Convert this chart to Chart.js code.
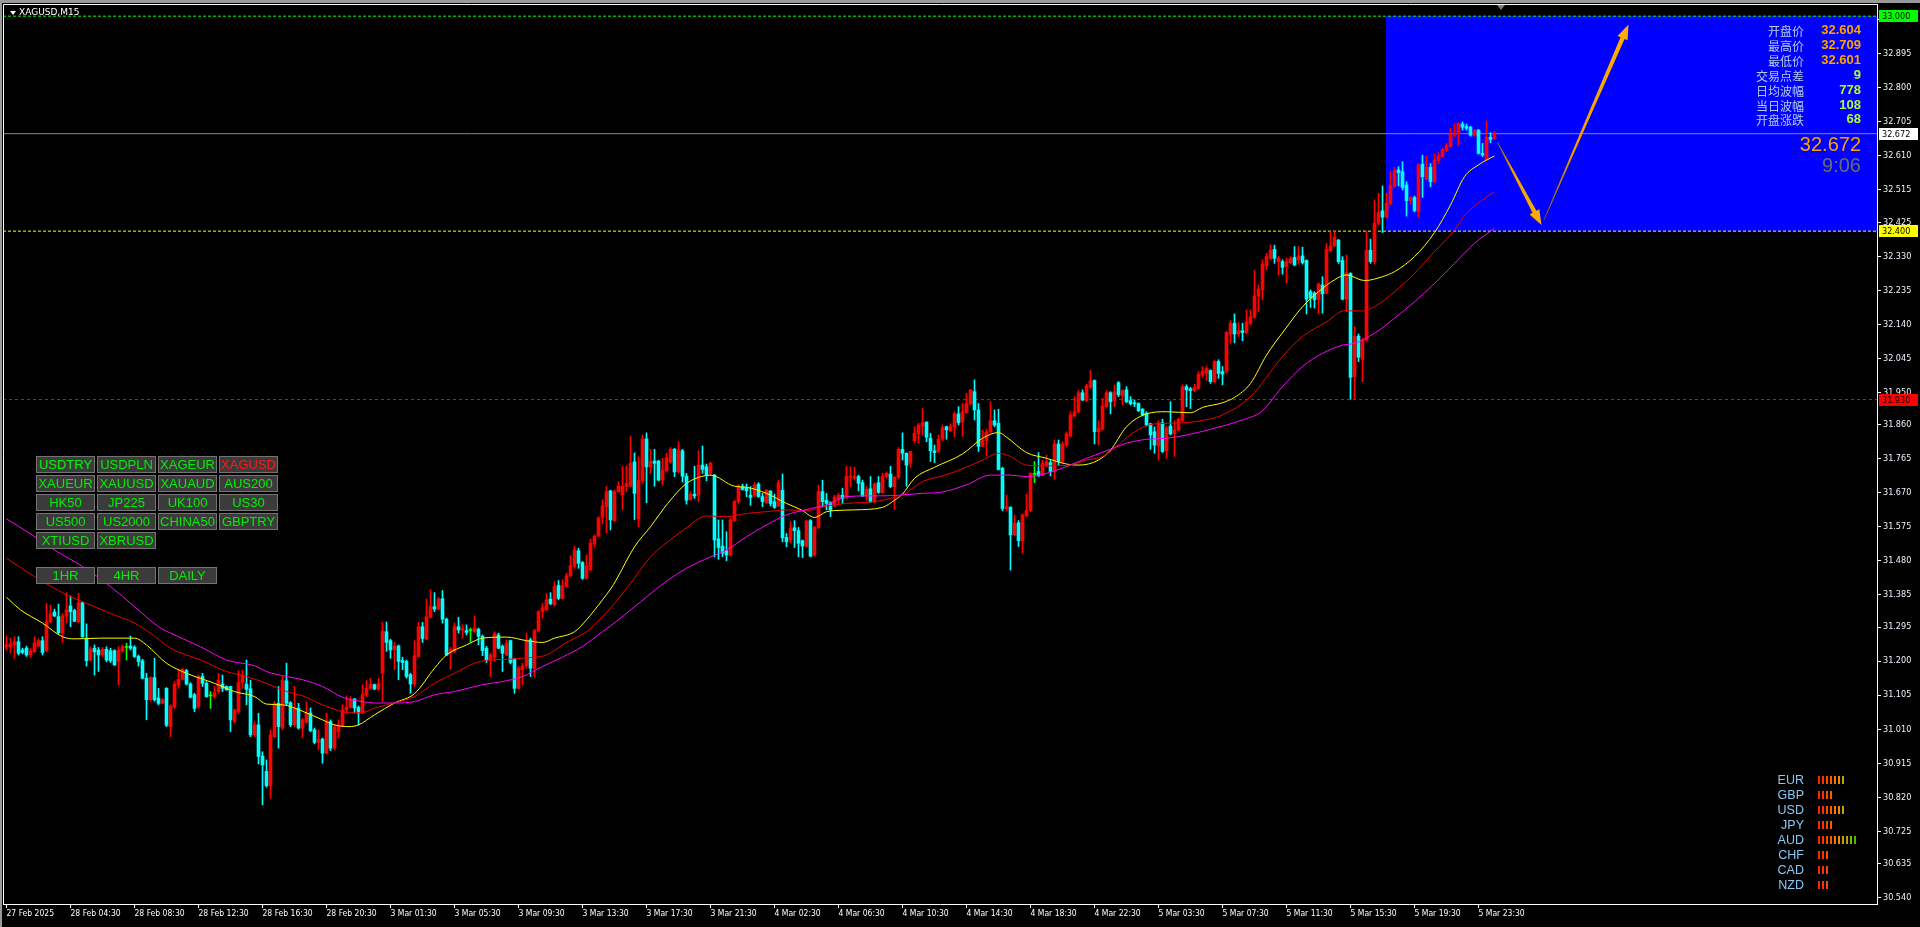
<!DOCTYPE html>
<html>
<head>
<meta charset="utf-8">
<title>XAGUSD,M15</title>
<script src="https://cdn.jsdelivr.net/npm/chart.js@4.4.1/dist/chart.umd.min.js"></script>
<style>
    html, body { margin: 0; padding: 0; background: #000; overflow: hidden; }
    #wrap { position: relative; width: 1920px; height: 927px; background: #000; }
    #chart { position: absolute; left: 0; top: 0; }
    .frameTop { position: absolute; left: 0; top: 0; width: 1920px; height: 3px; background: #9a9a9a; }
    .frameLeft { position: absolute; left: 0; top: 0; width: 2px; height: 927px; background: #9a9a9a; }
    .title { position: absolute; left: 19px; top: 6px; font: 9px "DejaVu Sans", sans-serif; color: #fff; line-height: 12px; }
    .tri { position: absolute; left: 10px; top: 11px; width: 0; height: 0; border-left: 3px solid transparent; border-right: 3px solid transparent; border-top: 4px solid #fff; }
    .btn { position: absolute; width: 57px; height: 15px; background: #3b3b3b; border: 1px solid #747474; color: #00f000; font: 13px "Liberation Sans", Arial, sans-serif; line-height: 15px; text-align: center; }
    .info { position: absolute; line-height: 14px; white-space: nowrap; text-align: right; }
    .lbl { font: 12px "Noto Sans CJK SC", sans-serif; color: #b4cbe8; }
    .val { font: bold 13px "Liberation Sans", Arial, sans-serif; }
    .big { position: absolute; right: 59px; font: 20px "Liberation Sans", Arial, sans-serif; line-height: 20px; text-align: right; }
    .cur { position: absolute; right: 116px; font: 12.5px "Liberation Sans", Arial, sans-serif; color: #87c8f5; line-height: 14px; text-align: right; }
    .bar { position: absolute; width: 2px; height: 8px; }
</style>
</head>
<body>
<div id="wrap">
    <canvas id="chart" width="1920" height="927"></canvas>
    <div class="frameTop"></div>
    <div class="frameLeft"></div>
    <div class="tri"></div>
    <div class="title">XAGUSD,M15</div>
    <div id="overlay"></div>
</div>
<script>
// ============================================
// DATA
// ============================================

// OHLC of each M15 candle, left to right
const opens = [
31.239,31.240,31.245,31.254,31.231,31.236,31.217,31.226,31.242,31.257,31.229,31.310,31.337,31.324,31.278,31.326,31.354,31.341,31.310,31.363,
31.264,31.203,31.236,31.231,31.217,31.233,31.229,31.229,31.199,31.228,31.238,31.242,31.239,31.213,31.201,31.152,31.092,31.154,31.097,31.082,
31.124,31.017,31.071,31.133,31.149,31.173,31.136,31.106,31.073,31.157,31.138,31.103,31.101,31.115,31.136,31.129,31.129,31.031,31.059,31.140,
31.136,31.123,30.994,31.022,30.935,30.892,30.852,30.989,31.082,31.013,31.145,31.084,31.022,31.068,31.013,31.029,31.055,31.008,30.973,30.982,
30.943,31.031,30.957,31.003,31.019,31.064,31.071,31.094,31.071,31.055,31.106,31.124,31.134,31.122,31.166,31.282,31.257,31.231,31.242,31.202,
31.199,31.162,31.136,31.213,31.296,31.261,31.322,31.352,31.345,31.374,31.317,31.222,31.227,31.296,31.287,31.285,31.285,31.282,31.289,31.269,
31.236,31.202,31.211,31.273,31.241,31.217,31.257,31.205,31.124,31.176,31.187,31.259,31.180,31.285,31.338,31.343,31.373,31.357,31.411,31.375,
31.408,31.438,31.464,31.508,31.475,31.431,31.455,31.527,31.549,31.601,31.631,31.675,31.592,31.673,31.663,31.687,31.688,31.756,31.597,31.703,
31.820,31.742,31.758,31.758,31.705,31.731,31.756,31.791,31.728,31.787,31.716,31.651,31.666,31.663,31.747,31.742,31.724,31.719,31.541,31.521,
31.508,31.496,31.592,31.645,31.688,31.685,31.663,31.663,31.694,31.659,31.642,31.675,31.645,31.633,31.677,31.545,31.538,31.572,31.564,31.536,
31.521,31.592,31.496,31.573,31.673,31.649,31.642,31.635,31.651,31.663,31.657,31.713,31.710,31.715,31.698,31.661,31.681,31.645,31.698,31.670,
31.715,31.722,31.687,31.713,31.791,31.780,31.752,31.815,31.834,31.856,31.867,31.822,31.787,31.785,31.819,31.854,31.843,31.854,31.890,31.868,
31.893,31.919,31.952,31.901,31.800,31.815,31.840,31.871,31.864,31.738,31.626,31.629,31.552,31.586,31.536,31.605,31.620,31.721,31.729,31.719,
31.747,31.754,31.732,31.806,31.757,31.803,31.828,31.884,31.896,31.949,31.927,31.964,31.983,31.840,31.847,31.910,31.949,31.927,31.977,31.940,
31.957,31.927,31.921,31.919,31.903,31.892,31.862,31.840,31.800,31.865,31.787,31.856,31.834,31.845,31.871,31.966,31.960,31.955,31.961,31.998,
32.003,32.011,31.980,32.036,32.008,32.008,32.113,32.143,32.113,32.122,32.117,32.143,32.160,32.219,32.236,32.303,32.324,32.349,32.315,32.315,
32.301,32.312,32.327,32.319,32.331,32.318,32.231,32.227,32.210,32.250,32.227,32.345,32.359,32.375,32.318,32.210,32.282,31.994,32.107,32.042,
32.096,32.347,32.315,32.422,32.457,32.439,32.476,32.526,32.571,32.566,32.529,32.485,32.494,32.454,32.587,32.545,32.578,32.538,32.597,32.608,
32.625,32.636,32.668,32.671,32.699,32.692,32.690,32.668,32.682,32.617,32.599,32.662,32.659
];
const highs = [
31.270,31.264,31.268,31.268,31.236,31.242,31.235,31.268,31.262,31.268,31.361,31.356,31.345,31.359,31.333,31.391,31.382,31.345,31.389,31.365,
31.304,31.240,31.245,31.238,31.238,31.240,31.236,31.232,31.240,31.245,31.250,31.270,31.243,31.217,31.205,31.166,31.156,31.208,31.124,31.095,
31.126,31.078,31.143,31.177,31.180,31.177,31.140,31.110,31.161,31.166,31.143,31.115,31.129,31.166,31.161,31.131,31.130,31.066,31.173,31.175,
31.203,31.147,31.031,31.054,30.947,30.924,31.008,31.087,31.129,31.157,31.194,31.087,31.129,31.082,31.040,31.087,31.069,31.013,31.008,30.985,
31.055,31.036,31.022,31.036,31.078,31.103,31.101,31.096,31.075,31.134,31.146,31.152,31.136,31.152,31.308,31.309,31.261,31.252,31.245,31.211,
31.203,31.166,31.257,31.308,31.308,31.373,31.399,31.391,31.378,31.397,31.320,31.239,31.306,31.322,31.301,31.301,31.292,31.326,31.292,31.273,
31.241,31.222,31.282,31.278,31.245,31.259,31.259,31.208,31.185,31.194,31.278,31.264,31.289,31.341,31.361,31.389,31.391,31.422,31.425,31.427,
31.445,31.494,31.521,31.515,31.478,31.496,31.540,31.552,31.603,31.650,31.687,31.677,31.677,31.701,31.744,31.744,31.828,31.781,31.770,31.831,
31.837,31.791,31.791,31.761,31.766,31.780,31.796,31.794,31.812,31.791,31.724,31.673,31.744,31.787,31.800,31.750,31.756,31.721,31.594,31.594,
31.561,31.598,31.649,31.692,31.694,31.694,31.687,31.698,31.698,31.668,31.679,31.675,31.666,31.705,31.722,31.556,31.589,31.592,31.573,31.538,
31.594,31.595,31.577,31.691,31.705,31.668,31.645,31.663,31.668,31.682,31.744,31.742,31.741,31.719,31.705,31.687,31.715,31.698,31.715,31.724,
31.728,31.744,31.715,31.796,31.837,31.781,31.785,31.854,31.864,31.905,31.868,31.836,31.803,31.831,31.859,31.856,31.862,31.896,31.910,31.919,
31.947,31.958,31.985,31.919,31.845,31.847,31.924,31.901,31.903,31.741,31.664,31.631,31.608,31.592,31.611,31.666,31.726,31.757,31.782,31.761,
31.775,31.761,31.817,31.817,31.812,31.840,31.896,31.938,31.955,31.957,31.973,32.011,31.985,31.871,31.933,31.955,31.952,31.971,31.980,31.958,
31.966,31.938,31.929,31.921,31.905,31.896,31.864,31.854,31.871,31.875,31.856,31.924,31.871,31.878,31.971,31.971,31.964,31.973,32.008,32.022,
32.022,32.013,32.039,32.041,32.022,32.120,32.150,32.169,32.145,32.143,32.180,32.180,32.290,32.250,32.320,32.338,32.361,32.361,32.329,32.320,
32.324,32.329,32.357,32.357,32.355,32.320,32.236,32.231,32.256,32.273,32.366,32.399,32.399,32.377,32.329,32.333,32.284,32.134,32.113,32.101,
32.399,32.378,32.487,32.506,32.526,32.506,32.566,32.578,32.580,32.594,32.538,32.496,32.498,32.589,32.612,32.610,32.589,32.615,32.619,32.631,
32.645,32.687,32.699,32.703,32.705,32.699,32.693,32.684,32.684,32.645,32.708,32.675,32.678
];
const lows = [
31.231,31.222,31.208,31.217,31.220,31.213,31.211,31.224,31.240,31.217,31.226,31.306,31.324,31.276,31.252,31.307,31.296,31.310,31.307,31.266,
31.186,31.200,31.161,31.171,31.212,31.198,31.196,31.188,31.133,31.225,31.203,31.231,31.210,31.186,31.150,31.036,31.088,31.088,31.078,31.080,
31.017,30.989,31.068,31.124,31.147,31.133,31.097,31.059,31.068,31.129,31.099,31.068,31.096,31.110,31.115,31.118,31.003,31.027,31.054,31.124,
31.078,30.989,30.989,30.913,30.799,30.848,30.817,30.987,30.957,31.008,31.078,31.017,31.017,31.010,30.987,31.027,31.003,30.969,30.952,30.915,
30.941,30.950,30.952,30.985,31.017,31.055,31.069,31.055,31.022,31.053,31.101,31.122,31.120,31.118,31.087,31.227,31.208,31.176,31.148,31.176,
31.152,31.110,31.129,31.211,31.252,31.259,31.320,31.338,31.343,31.306,31.215,31.177,31.224,31.278,31.264,31.273,31.252,31.280,31.245,31.215,
31.196,31.157,31.199,31.234,31.171,31.215,31.192,31.110,31.122,31.134,31.180,31.157,31.155,31.282,31.320,31.341,31.357,31.354,31.371,31.373,
31.406,31.436,31.459,31.459,31.428,31.428,31.453,31.518,31.547,31.583,31.558,31.566,31.589,31.672,31.622,31.673,31.687,31.595,31.575,31.696,
31.642,31.724,31.688,31.703,31.691,31.728,31.752,31.715,31.726,31.700,31.638,31.649,31.654,31.645,31.724,31.703,31.719,31.491,31.484,31.491,
31.480,31.493,31.589,31.640,31.677,31.659,31.635,31.659,31.657,31.631,31.640,31.633,31.626,31.631,31.533,31.519,31.530,31.517,31.491,31.489,
31.517,31.491,31.493,31.570,31.631,31.622,31.603,31.631,31.640,31.640,31.654,31.687,31.705,31.675,31.659,31.649,31.642,31.642,31.668,31.668,
31.710,31.684,31.623,31.710,31.761,31.688,31.741,31.810,31.808,31.831,31.812,31.757,31.754,31.782,31.815,31.819,31.840,31.826,31.859,31.828,
31.892,31.915,31.873,31.785,31.799,31.772,31.836,31.854,31.733,31.620,31.620,31.454,31.549,31.520,31.501,31.603,31.617,31.698,31.715,31.717,
31.743,31.717,31.707,31.747,31.752,31.799,31.826,31.882,31.893,31.927,31.924,31.961,31.806,31.803,31.845,31.908,31.890,31.910,31.938,31.915,
31.921,31.915,31.910,31.896,31.884,31.856,31.791,31.780,31.761,31.782,31.766,31.831,31.771,31.843,31.868,31.910,31.905,31.952,31.958,31.994,
31.983,31.975,31.977,31.989,31.971,32.003,32.087,32.088,32.106,32.094,32.113,32.138,32.157,32.175,32.208,32.292,32.320,32.310,32.278,32.280,
32.256,32.308,32.303,32.308,32.308,32.169,32.187,32.185,32.169,32.171,32.225,32.343,32.357,32.310,32.208,32.175,31.931,31.931,32.036,31.980,
32.094,32.310,32.308,32.417,32.396,32.436,32.473,32.522,32.526,32.515,32.442,32.476,32.454,32.439,32.494,32.543,32.524,32.535,32.589,32.606,
32.622,32.634,32.664,32.638,32.682,32.682,32.665,32.665,32.615,32.608,32.597,32.647,32.656
];
const closes = [
31.245,31.248,31.254,31.222,31.224,31.217,31.229,31.250,31.257,31.224,31.310,31.332,31.326,31.279,31.326,31.343,31.338,31.311,31.363,31.268,
31.201,31.234,31.226,31.217,31.233,31.203,31.201,31.189,31.231,31.240,31.238,31.236,31.213,31.199,31.152,31.092,31.154,31.092,31.082,31.092,
31.021,31.075,31.136,31.149,31.177,31.136,31.099,31.068,31.157,31.138,31.101,31.103,31.112,31.147,31.124,31.120,31.036,31.064,31.140,31.161,
31.121,30.994,31.022,30.934,30.910,30.852,30.994,31.082,31.017,31.147,31.082,31.022,31.068,31.013,31.036,31.055,31.006,30.973,30.982,30.943,
31.031,30.957,31.016,31.019,31.064,31.071,31.094,31.069,31.055,31.106,31.124,31.135,31.122,31.137,31.284,31.252,31.231,31.242,31.199,31.196,
31.157,31.136,31.215,31.296,31.263,31.324,31.352,31.345,31.373,31.317,31.217,31.233,31.296,31.287,31.291,31.280,31.285,31.292,31.269,31.229,
31.202,31.217,31.276,31.236,31.222,31.250,31.196,31.124,31.180,31.187,31.259,31.180,31.285,31.338,31.348,31.371,31.360,31.408,31.375,31.410,
31.438,31.466,31.510,31.473,31.431,31.466,31.529,31.549,31.599,31.633,31.673,31.594,31.673,31.688,31.688,31.696,31.752,31.668,31.705,31.820,
31.742,31.758,31.752,31.705,31.733,31.768,31.791,31.728,31.789,31.716,31.649,31.666,31.661,31.747,31.735,31.719,31.752,31.538,31.517,31.501,
31.496,31.594,31.645,31.690,31.679,31.675,31.657,31.691,31.659,31.645,31.677,31.640,31.629,31.698,31.544,31.533,31.570,31.564,31.529,31.521,
31.591,31.493,31.573,31.673,31.645,31.640,31.622,31.657,31.663,31.654,31.716,31.716,31.715,31.696,31.661,31.679,31.645,31.694,31.671,31.716,
31.724,31.687,31.713,31.791,31.780,31.747,31.785,31.836,31.859,31.865,31.825,31.787,31.782,31.819,31.852,31.845,31.856,31.890,31.865,31.896,
31.919,31.957,31.901,31.799,31.817,31.840,31.871,31.859,31.735,31.626,31.631,31.552,31.585,31.536,31.608,31.620,31.724,31.721,31.717,31.752,
31.757,31.729,31.806,31.757,31.806,31.834,31.887,31.896,31.949,31.929,31.968,31.983,31.840,31.850,31.912,31.949,31.924,31.952,31.943,31.955,
31.924,31.918,31.918,31.899,31.887,31.859,31.831,31.803,31.865,31.785,31.850,31.834,31.845,31.875,31.966,31.957,31.955,31.964,32.001,32.008,
32.017,31.980,32.036,32.003,32.001,32.117,32.143,32.113,32.122,32.117,32.147,32.161,32.219,32.238,32.308,32.329,32.347,32.324,32.324,32.299,
32.315,32.324,32.306,32.331,32.312,32.210,32.213,32.208,32.252,32.225,32.349,32.359,32.383,32.315,32.210,32.284,31.992,32.107,32.048,32.096,
32.347,32.315,32.422,32.452,32.439,32.478,32.529,32.569,32.563,32.522,32.485,32.494,32.457,32.585,32.552,32.578,32.538,32.599,32.610,32.628,
32.638,32.671,32.673,32.701,32.690,32.687,32.668,32.682,32.617,32.612,32.662,32.656,32.672
];

// Moving averages as [candle, price]
const maFast = [
[1,31.378],[4.5,31.343],[10,31.306],[15,31.268],[18,31.262],[24.5,31.264],[33,31.264],[36,31.245],[41,31.194],[46,31.166],
[53,31.138],[58,31.115],[63,31.101],[66,31.080],[70,31.078],[75,31.060],[80,31.036],[83,31.022],[86.6,31.017],[89,31.022],
[93,31.050],[98,31.083],[103,31.109],[108,31.180],[111,31.217],[116,31.245],[120,31.264],[126,31.267],[131,31.257],[135,31.252],
[138,31.264],[143,31.282],[146,31.315],[150,31.371],[152,31.401],[153.4,31.426],[158,31.519],[162,31.575],[166.3,31.640],[171,31.696],
[174.7,31.715],[177,31.719],[183,31.688],[186,31.685],[191,31.668],[196,31.640],[199.7,31.622],[203,31.601],[206,31.617],[208,31.620],
[213,31.622],[220,31.629],[223,31.649],[225,31.666],[228,31.710],[233,31.741],[240,31.778],[245,31.822],[249,31.838],[251,31.825],
[256,31.782],[261,31.766],[266,31.750],[269,31.747],[274,31.761],[277,31.789],[281,31.854],[286,31.890],[291,31.896],[297,31.893],
[300,31.908],[305,31.921],[308,31.936],[312,31.975],[316,32.054],[320.5,32.124],[325,32.189],[329,32.231],[333,32.264],[336,32.278],
[340.5,32.262],[345,32.273],[348,32.287],[353,32.329],[358,32.396],[362,32.473],[365.5,32.552],[369,32.585],[373,32.610]
];
const maMid = [
[1,31.487],[8,31.436],[16,31.385],[21,31.361],[27,31.333],[33,31.306],[37,31.278],[42,31.236],[49.5,31.203],[56,31.171],
[61,31.157],[66,31.138],[71,31.115],[75,31.103],[80,31.078],[84,31.062],[86,31.056],[90,31.056],[93,31.069],[98,31.083],
[103,31.101],[108,31.138],[113,31.166],[118,31.194],[121,31.202],[126,31.205],[133,31.211],[136,31.217],[141,31.252],[146,31.282],
[150,31.324],[152,31.348],[157.6,31.426],[162,31.491],[166.3,31.533],[170.5,31.568],[176,31.605],[181,31.603],[186,31.612],[191,31.617],
[196,31.622],[201,31.620],[206,31.633],[211,31.640],[218,31.645],[223,31.657],[225,31.663],[230,31.701],[235,31.717],[241,31.741],
[245,31.761],[249,31.780],[252,31.771],[256,31.747],[261,31.745],[266,31.746],[271,31.761],[275,31.771],[278,31.794],[283,31.840],
[288,31.862],[293,31.864],[298,31.868],[302,31.876],[305,31.887],[312,31.938],[320,32.050],[325,32.106],[331,32.147],[335.5,32.178],
[340,32.177],[343,32.189],[348,32.231],[353,32.282],[358,32.343],[363,32.403],[366,32.450],[370,32.487],[373,32.510]
];
const maSlow = [
[1,31.597],[7,31.555],[13,31.510],[20,31.464],[27,31.408],[33,31.352],[39,31.296],[43,31.273],[49.5,31.240],[56,31.203],
[63,31.187],[66,31.171],[71,31.157],[75,31.148],[80,31.129],[85,31.099],[90,31.087],[93,31.083],[98,31.083],[103,31.087],
[108,31.106],[113,31.115],[120,31.134],[125,31.143],[130,31.157],[135,31.185],[140,31.211],[145,31.241],[150,31.282],[152,31.298],
[167,31.431],[171,31.459],[177,31.491],[181,31.510],[186,31.547],[191,31.580],[196,31.608],[201,31.623],[206,31.636],[211,31.659],
[216,31.661],[223,31.662],[225,31.664],[230,31.668],[235,31.672],[241,31.692],[247,31.719],[252,31.719],[256,31.715],[261,31.724],
[266,31.743],[271,31.766],[276,31.787],[281,31.808],[286,31.819],[291,31.822],[296,31.831],[302,31.847],[310.5,31.875],[314.7,31.896],
[320,31.966],[325,32.022],[330,32.059],[335,32.082],[338,32.087],[343,32.115],[348,32.157],[353,32.203],[358,32.254],[363,32.310],
[368,32.366],[373,32.408]
];

// Horizontal levels
const levelPrices = [33.000, 32.672, 32.400, 31.930];
const levelLabels = ['33.000', '32.672', '32.400', '31.930'];

// Forecast zone and arrows [candle, price]
const zoneFrom = 345.75;
const zoneTop = 33.000;
const zoneBottom = 32.400;
const arrowDown = [[373.7, 32.649], [384.75, 32.417]];
const arrowUp = [[385.35, 32.431], [406.5, 32.977]];

// Axis ticks
const yTicks = [30.540,30.635,30.725,30.820,30.915,31.010,31.105,31.200,31.295,31.385,31.480,31.575,31.670,31.765,
                31.860,31.950,32.045,32.140,32.235,32.330,32.425,32.515,32.610,32.705,32.800,32.895,32.990];
const xTickIdx = [1,17,33,49,65,81,97,113,129,145,161,177,193,209,225,241,257,273,289,305,321,337,353,369];
const xTickLabels = ['27 Feb 2025','28 Feb 04:30','28 Feb 08:30','28 Feb 12:30','28 Feb 16:30','28 Feb 20:30',
                     '3 Mar 01:30','3 Mar 05:30','3 Mar 09:30','3 Mar 13:30','3 Mar 17:30','3 Mar 21:30',
                     '4 Mar 02:30','4 Mar 06:30','4 Mar 10:30','4 Mar 14:30','4 Mar 18:30','4 Mar 22:30',
                     '5 Mar 03:30','5 Mar 07:30','5 Mar 11:30','5 Mar 15:30','5 Mar 19:30','5 Mar 23:30'];

// Info panel
const infoLabels = ['开盘价','最高价','最低价','交易点差','日均波幅','当日波幅','开盘涨跌'];
const infoValues = ['32.604','32.709','32.601','9','778','108','68'];
const lastPrice = '32.672';
const barTimer = '9:06';

// Symbol buttons
const symbols = ['USDTRY','USDPLN','XAGEUR','XAGUSD','XAUEUR','XAUUSD','XAUAUD','AUS200',
                 'HK50','JP225','UK100','US30','US500','US2000','CHINA50','GBPTRY','XTIUSD','XBRUSD'];
const activeSymbol = 'XAGUSD';
const periods = ['1HR','4HR','DAILY'];

// Currency strength
const currencies = ['EUR','GBP','USD','JPY','AUD','CHF','CAD','NZD'];
const strength = [7, 4, 7, 4, 10, 3, 3, 3];

// ============================================
// STYLES
// ============================================
const X_MIN = 0.125, X_MAX = 468.625;
const Y_MIN = 30.522, Y_MAX = 33.034;
const levelColors = ['#00ff00', '#8c8c8c', '#ffff00', '#ff0000'];
const levelDash = [[3, 2], [], [3, 2], [3, 3]];
const tagBg = ['#00ff00', '#ffffff', '#ffff00', '#ff0000'];
const tagFg = ['#000000', '#000000', '#000000', '#000000'];
const strengthColors = ['#ff2200','#ff3300','#ff4600','#ff5c00','#ff7200','#f08800','#c8a000','#a8a800','#84b000','#4cb800'];

// ============================================
// CHART
// ============================================
const candleIdx = opens.map((_, i) => i + 1);
const candleColor = opens.map((o, i) => closes[i] > o ? '#ff0000' : (closes[i] < o ? '#00ffff' : '#00ff00'));

const wickData = candleIdx.map((n, i) => ({ x: n, y: [lows[i], highs[i]] }));
const bodyData = candleIdx.map((n, i) => ({ x: n, y: [opens[i], closes[i]] }));

const levelSets = levelPrices.map((p, i) => ({
    type: 'line',
    data: [{ x: X_MIN, y: p }, { x: X_MAX, y: p }],
    borderColor: levelColors[i],
    borderWidth: 1,
    borderDash: levelDash[i],
    pointRadius: 0,
    order: 10
}));

function maSet(points, color) {
    return {
        type: 'line',
        data: points.map(p => ({ x: p[0], y: p[1] })),
        borderColor: color,
        borderWidth: 1,
        pointRadius: 0,
        cubicInterpolationMode: 'monotone',
        order: 0
    };
}

function drawArrow(ctx, x0, y0, x1, y1) {
    const dx = x1 - x0, dy = y1 - y0, len = Math.hypot(dx, dy);
    const ux = dx / len, uy = dy / len, nx = -uy, ny = ux;
    const headLen = 15, headW = 5.5, shaftW = 2.2;
    const bx = x1 - ux * headLen, by = y1 - uy * headLen;
    const grad = ctx.createLinearGradient(x0, y0, x1, y1);
    grad.addColorStop(0, '#7a5a20');
    grad.addColorStop(0.35, '#f0a000');
    grad.addColorStop(1, '#ffad00');
    ctx.fillStyle = grad;
    ctx.beginPath();
    ctx.moveTo(x0 + nx * 0.4, y0 + ny * 0.4);
    ctx.lineTo(bx + nx * shaftW, by + ny * shaftW);
    ctx.lineTo(bx + nx * headW, by + ny * headW);
    ctx.lineTo(x1, y1);
    ctx.lineTo(bx - nx * headW, by - ny * headW);
    ctx.lineTo(bx - nx * shaftW, by - ny * shaftW);
    ctx.lineTo(x0 - nx * 0.4, y0 - ny * 0.4);
    ctx.closePath();
    ctx.fill();
}

const overlayPlugin = {
    id: 'overlay',
    beforeDatasetsDraw(chart) {
        const { ctx, scales: { x, y }, chartArea: a } = chart;
        const l = Math.round(x.getPixelForValue(zoneFrom));
        const t = Math.round(y.getPixelForValue(zoneTop));
        const b = Math.round(y.getPixelForValue(zoneBottom));
        ctx.save();
        ctx.fillStyle = '#0000ff';
        ctx.fillRect(l, t, a.right - l, b - t);
        ctx.restore();
    },
    afterDatasetsDraw(chart) {
        const { ctx, scales: { x, y } } = chart;
        ctx.save();
        [arrowDown, arrowUp].forEach(ar => {
            drawArrow(ctx, x.getPixelForValue(ar[0][0]), y.getPixelForValue(ar[0][1]),
                           x.getPixelForValue(ar[1][0]), y.getPixelForValue(ar[1][1]));
        });
        ctx.restore();
    },
    afterDraw(chart) {
        const { ctx, scales: { x, y }, chartArea: a } = chart;
        ctx.save();
        // white frame, top and left
        ctx.strokeStyle = '#ffffff';
        ctx.lineWidth = 1;
        ctx.beginPath();
        ctx.moveTo(a.left + 0.5, a.bottom);
        ctx.lineTo(a.left + 0.5, a.top + 0.5);
        ctx.lineTo(a.right, a.top + 0.5);
        ctx.stroke();
        // price tags on the right axis
        ctx.font = '9px "DejaVu Sans Condensed", sans-serif';
        ctx.textBaseline = 'middle';
        ctx.textAlign = 'left';
        levelPrices.forEach((p, i) => {
            const py = Math.round(y.getPixelForValue(p));
            ctx.fillStyle = tagBg[i];
            ctx.fillRect(a.right + 2, py - 6, 39, 12);
            ctx.fillStyle = tagFg[i];
            ctx.fillText(levelLabels[i], a.right + 5, py + 0.5);
        });
        // chart shift marker
        const sx = Math.round(x.getPixelForValue(374.5));
        ctx.fillStyle = '#7c7c7c';
        ctx.beginPath();
        ctx.moveTo(sx - 4, a.top + 1);
        ctx.lineTo(sx + 4, a.top + 1);
        ctx.lineTo(sx, a.top + 6);
        ctx.closePath();
        ctx.fill();
        ctx.restore();
    }
};

new Chart(document.getElementById('chart'), {
    type: 'bar',
    data: {
        datasets: [
            ...levelSets,
            maSet(maSlow, '#ff00ff'),
            maSet(maMid, '#ee0000'),
            maSet(maFast, '#ffff00'),
            {
                type: 'bar',
                data: wickData,
                backgroundColor: candleColor,
                barThickness: 1,
                minBarLength: 1,
                grouped: false,
                borderWidth: 0,
                order: 3
            },
            {
                type: 'bar',
                data: bodyData,
                backgroundColor: candleColor,
                barThickness: 3,
                minBarLength: 1,
                grouped: false,
                borderWidth: 0,
                order: 2
            }
        ]
    },
    options: {
        responsive: false,
        devicePixelRatio: 1,
        animation: false,
        events: [],
        layout: { padding: { left: 3, top: 4, right: 0, bottom: 0 } },
        plugins: { legend: { display: false }, tooltip: { enabled: false } },
        scales: {
            x: {
                type: 'linear',
                min: X_MIN,
                max: X_MAX,
                offset: false,
                afterFit: s => { s.height = 23; s.paddingLeft = 0; s.paddingRight = 0; },
                afterBuildTicks: s => { s.ticks = xTickIdx.map(v => ({ value: v })); },
                grid: { drawOnChartArea: false, drawTicks: true, tickLength: 4, tickColor: '#ffffff', offset: false },
                border: { color: '#ffffff', width: 1 },
                ticks: {
                    autoSkip: false,
                    maxRotation: 0,
                    align: 'start',
                    padding: 1,
                    color: '#ffffff',
                    font: { family: 'DejaVu Sans Condensed', size: 8.5 },
                    callback: (v, i) => xTickLabels[i]
                }
            },
            y: {
                type: 'linear',
                position: 'right',
                min: Y_MIN,
                max: Y_MAX,
                afterFit: s => { s.width = 43; s.paddingTop = 0; s.paddingBottom = 0; },
                afterBuildTicks: s => { s.ticks = yTicks.map(v => ({ value: v })); },
                grid: { drawOnChartArea: false, drawTicks: true, tickLength: 4, tickColor: '#ffffff' },
                border: { color: '#ffffff', width: 1 },
                ticks: {
                    autoSkip: false,
                    padding: 2,
                    color: '#eef2ff',
                    font: { family: 'DejaVu Sans Condensed', size: 9 },
                    callback: v => v.toFixed(3)
                }
            }
        }
    },
    plugins: [overlayPlugin]
});

// ============================================
// PANELS (buttons, info, strength)
// ============================================
const overlay = document.getElementById('overlay');

function addDiv(cls, text, style) {
    const d = document.createElement('div');
    d.className = cls;
    d.textContent = text;
    Object.assign(d.style, style);
    overlay.appendChild(d);
    return d;
}

symbols.forEach((s, i) => {
    const col = i % 4, row = Math.floor(i / 4);
    addDiv('btn', s, {
        left: (36 + col * 61) + 'px',
        top: (456 + row * 19) + 'px',
        color: s === activeSymbol ? '#ff1a1a' : '#00f000'
    });
});
periods.forEach((p, i) => {
    addDiv('btn', p, { left: (36 + i * 61) + 'px', top: '567px' });
});

infoLabels.forEach((t, i) => {
    const top = (22 + i * 14.9) + 'px';
    addDiv('info lbl', t, { right: '116px', top });
    addDiv('info val', infoValues[i], { right: '59px', top, color: i < 3 ? '#ffa200' : '#adff2f' });
});
addDiv('big', lastPrice, { top: '134px', color: '#ffa000' });
addDiv('big', barTimer, { top: '155px', color: '#6c6c6c' });

currencies.forEach((c, i) => {
    const cy = 780 + i * 15;
    addDiv('cur', c, { top: (cy - 7) + 'px' });
    for (let k = 0; k < strength[i]; k++) {
        addDiv('bar', '', { left: (1818 + k * 4) + 'px', top: (cy - 4) + 'px', background: strengthColors[k] });
    }
});
</script>
</body>
</html>
